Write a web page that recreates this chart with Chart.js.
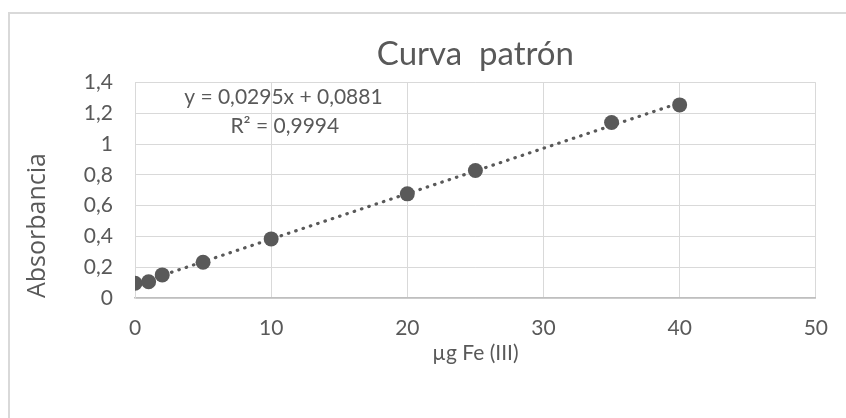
<!DOCTYPE html>
<html>
<head>
<meta charset="utf-8">
<script src="https://cdn.jsdelivr.net/npm/chart.js@4"></script>
<style>
  html, body { margin: 0; padding: 0; background: #fff; overflow: hidden; }
  #wrap { position: relative; width: 846px; height: 418px; }
  #frame { position: absolute; left: 8px; top: 12px; width: 860px; height: 420px; border: 2px solid #d9d9d9; box-sizing: border-box; }
  #curve { position: absolute; left: 0; top: 0; }
</style>
</head>
<body>
<div id="wrap">
  <div id="frame"></div>
  <canvas id="curve" width="846" height="418"></canvas>
</div>
<script>
// calibration points
let ugFe = [0, 1, 2, 5, 10, 20, 25, 35, 40]
let absorbancia = [0.096, 0.106, 0.15, 0.232, 0.384, 0.677, 0.829, 1.141, 1.255]

// linear trendline (y = 0,0295x + 0,0881) endpoints
let trendX = [0, 40]
let trendY = [0.0881, 1.2681]

let ecuacion = ['y = 0,0295x + 0,0881', 'R² = 0,9994']

let gris = '#595959'

let puntos = ugFe.map((x, i) => ({x: x, y: absorbancia[i]}))
let tendencia = trendX.map((x, i) => ({x: x, y: trendY[i]}))

// draws the trendline equation like the spreadsheet label
let etiqueta = {
  id: 'etiqueta',
  afterDatasetsDraw(chart) {
    let ctx = chart.ctx
    let xs = chart.scales.x
    let ys = chart.scales.y
    ctx.save()
    ctx.font = '21px Lato'
    ctx.fillStyle = gris
    ctx.textAlign = 'center'
    ctx.textBaseline = 'middle'
    ctx.fillText(ecuacion[0], xs.getPixelForValue(10.9), ys.getPixelForValue(1.306))
    ctx.fillText(ecuacion[1], xs.getPixelForValue(11), ys.getPixelForValue(1.115))
    ctx.restore()
  }
}

let curveChart = document.getElementById('curve').getContext('2d')
let curve = new Chart(curveChart, {
  type: 'scatter',
  data: {
    datasets: [{
      label: 'Curva patrón',
      data: puntos,
      backgroundColor: gris,
      borderColor: gris,
      pointRadius: 7.5,
      pointBorderWidth: 0,
      pointHoverRadius: 7.5,
      order: 1
    }, {
      type: 'line',
      label: 'Tendencia',
      data: tendencia,
      borderColor: gris,
      borderWidth: 3.2,
      borderDash: [0.5, 7.2],
      borderCapStyle: 'round',
      pointRadius: 0,
      fill: false,
      order: 2
    }]
  },
  options: {
    responsive: false,
    animation: false,
    events: [],
    layout: { padding: { left: 10, right: 30, top: 0, bottom: 40 } },
    plugins: {
      legend: { display: false },
      tooltip: { enabled: false },
      title: {
        display: true,
        text: 'Curva  patrón',
        color: gris,
        fullSize: false,
        font: { family: 'Lato', size: 33, weight: 'normal' },
        padding: { top: 35, bottom: 8 }
      }
    },
    scales: {
      x: {
        type: 'linear',
        min: 0,
        max: 50,
        ticks: { stepSize: 10, color: gris, padding: 18, font: { family: 'Lato', size: 21 } },
        grid: { color: '#d9d9d9', drawTicks: false },
        border: { color: '#bfbfbf', width: 1.5 },
        title: {
          display: true,
          text: 'µg Fe (III)',
          color: gris,
          font: { family: 'Lato', size: 21 },
          padding: { top: 0, bottom: 12 }
        },
        afterFit(scale) { scale.height = 80 }
      },
      y: {
        min: 0,
        max: 1.4,
        ticks: {
          stepSize: 0.2,
          color: gris,
          padding: 22,
          font: { family: 'Lato', size: 21 },
          callback: v => String(Math.round(v * 10) / 10).replace('.', ',')
        },
        grid: { color: '#d9d9d9', drawTicks: false },
        border: { color: '#d9d9d9' },
        title: {
          display: true,
          text: 'Absorbancia',
          align: 'start',
          color: gris,
          font: { family: 'Open Sans', size: 25 },
          padding: { top: 13, bottom: 0 }
        },
        afterFit(scale) { scale.width = 125 }
      }
    }
  },
  plugins: [etiqueta]
})
</script>
</body>
</html>
